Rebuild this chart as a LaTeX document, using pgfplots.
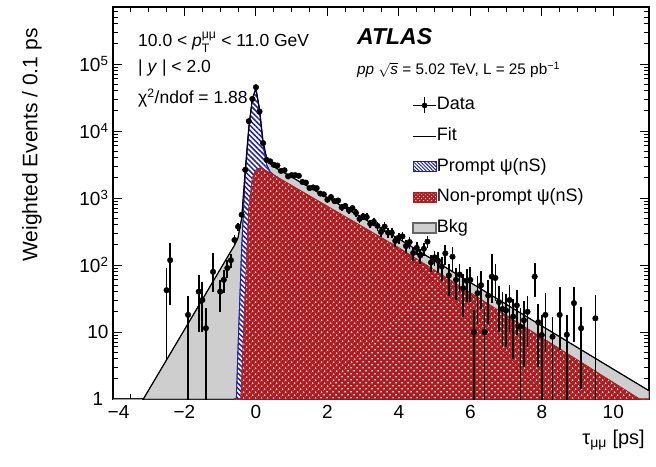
\documentclass[border=0pt]{standalone}
\usepackage{fontspec}
\setmainfont{Liberation Sans}
\usepackage{amsmath}
\usepackage{pgfplots}
\pgfplotsset{compat=1.18}
\usepackage{pgfplotstable}
\usetikzlibrary{patterns,patterns.meta}

\definecolor{myred}{RGB}{172,28,32}
\definecolor{myblue}{RGB}{30,30,170}
\definecolor{mygray}{RGB}{206,206,206}

\pgfplotstableread{
x y
-4.0 0.172
-0.6 197
-0.5 257
-0.4 498
-0.3 2557
-0.2 11258
-0.1 30703
0.0 42981
0.1 21217
0.2 6911
0.3 3965
0.4 3214
0.5 2928
0.6 2721
1 2050
2 1010
3 497.4
4 245.1
5 115.9
6 54.8
7 25.98
8 12.32
9 5.855
10 2.787
11 1.329
}\totaltab

\pgfplotstableread{
x y
-0.6 0.16
-0.5 6.1
-0.4 182
-0.3 2140
-0.2 10708
-0.1 29995
0.0 42130
0.1 20305
0.2 6020
0.3 3133
0.4 2438
0.5 2204
0.6 2045
}\prompttab

\pgfplotstableread{
x y
-0.6 0.01
-0.5 0.1
-0.4 2
-0.3 40
-0.2 708
-0.1 1995
0.0 2630
0.1 2805
0.15 2818
1 1537
4 180.5
11 0.816
}\nonprompttab

\pgfplotstableread{
x y ep em
-2.5 42 49 38
-2.4 118 96 93
-1.9 18 17 17.7
-1.6 40 31 30
-1.5 30 25 20
-1.4 11.4 11.6 11.1
-1.2 79 72 39
-1.0 40 20 20
-0.9 60 25 22
-0.8 90 27 25
-0.7 118 30 28
-0.6 236 40 40
-0.5 372 50 50
-0.4 562 60 60
-0.3 2630 150 150
-0.2 14000 350 350
-0.1 30000 520 520
0.0 45000 640 640
0.1 19500 420 420
0.2 6600 240 240
0.3 3700 180 180
0.4 3524 178 178
0.5 3128 168 168
0.6 3052 166 166
0.7 2534 151 151
0.8 2589 153 153
0.9 2101 138 138
1.0 2196 141 141
1.1 2192 140 140
1.2 2138 139 139
1.3 1735 125 125
1.4 1692 123 123
1.5 1406 112 112
1.6 1436 114 114
1.7 1401 112 112
1.8 1163 102 102
1.9 1134 101 101
2.0 942 92 92
2.1 1031 96 96
2.2 897 90 90
2.3 916 91 91
2.4 726 81 81
2.5 760 83 83
2.6 660 77 77
2.7 706 80 80
2.8 600 73 73
2.9 487 66 66
3.0 533 69 69
3.1 520 68 68
3.2 412 61 61
3.3 441 63 63
3.4 384 59 59
3.5 311 53 53
3.6 374 58 58
3.7 303 52 52
3.8 303 52 52
3.9 229 45 45
4.0 257 48 48
4.1 267 49 49
4.2 192 42 42
4.3 220 44 44
4.4 151 37 37
4.5 180 40 40
4.6 139 35 35
4.7 174 40 40
4.8 223 45 45
4.9 109 31 31
5.0 130 34 34
5.1 115 40 40
5.2 95 38 38
5.3 149 50 50
5.4 70 35 35
5.5 133 55 55
5.6 60 30 30
5.7 72 33 33
5.8 45 28 28
5.9 58 30 30
6.0 60 32 32
6.1 10 11 9.7
6.2 38 30 25
6.3 50 30 28
6.4 10 12 9.7
6.5 35 25 22
6.6 67 80 40
6.7 64 40 35
6.8 28 20 18
6.9 22 18 16
7.0 21 16 15
7.1 30 20 20
7.2 17 14 13
7.3 25 17 16
7.4 12 11 11.7
7.5 15 14 12
7.6 20 15 14
7.8 67 40 34
7.9 14 12 11
8.0 9 9 8.7
8.1 18 20 13
8.3 8.5 8 8.2
8.5 18 29 12.6
8.7 9.1 9 8.8
8.9 27 20 20
9.1 11.4 12 10
9.5 16 20 15.7
}\datatab

\begin{document}
\begin{tikzpicture}
\path[use as bounding box] (-113pt,-67pt) rectangle (543pt,399pt);
\begin{axis}[
  scale only axis, width=536pt, height=392pt,
  at={(0pt,0pt)}, anchor=south west,
  xmin=-4, xmax=11, ymode=log, ymin=1, ymax=7.08e5,
  xtick={-4,-2,0,2,4,6,8,10},
  xticklabels={\hphantom{−}−4,−2,0,2,4,6,8,10},
  minor x tick num=3,
  ytick={1,10,100,1000,10000,100000},
  yticklabels={1\hphantom{.},10,10\textsuperscript{2},10\textsuperscript{3},10\textsuperscript{4},10\textsuperscript{5}},
  minor ytick={2,3,4,5,6,7,8,9,20,30,40,50,60,70,80,90,200,300,400,500,600,700,800,900,2000,3000,4000,5000,6000,7000,8000,9000,20000,30000,40000,50000,60000,70000,80000,90000,200000,300000,400000,500000,600000,700000},
  tick align=inside,
  major tick length=9pt, minor tick length=5pt,
  every tick/.style={black, line width=0.9pt},
  axis line style={line width=1.2pt},
  ticklabel style={font=\fontsize{19}{19}\selectfont},
  xticklabel style={yshift=-2.5pt},
  yticklabel style={xshift=-1pt},
  legend style={at={(axis description cs:0.558,0.7717)}, anchor=north west,
    draw=none, fill=none, font=\fontsize{18}{18}\selectfont,
    row sep=13.5pt, inner sep=0pt,
    nodes={inner sep=0pt, text height=13pt, text depth=4pt},
    /tikz/every even column/.append style={column sep=3pt}},
  legend cell align=left,
]
% total fit (gray = bkg stacked on top)
\addplot[forget plot, draw=black!70, line width=0.6pt, fill=mygray] table[x=x,y=y] {\totaltab} \closedcycle;
% prompt + non-prompt
\addplot[forget plot, draw=myblue, line width=0.8pt, fill=white,
  postaction={pattern={Lines[angle=-45,distance=3.6pt,line width=1.5pt]}, pattern color=myblue}]
  table[x=x,y=y] {\prompttab} \closedcycle;
% non-prompt
\addplot[forget plot, draw=myred, line width=0.6pt, fill=myred,
  postaction={pattern={Dots[angle=45,distance=4pt,radius=1.05pt]}, pattern color=white!88!myred}]
  table[x=x,y=y] {\nonprompttab} \closedcycle;
% fit line
\addplot[forget plot, black, line width=1.2pt] table[x=x,y=y] {\totaltab};
% data
\addplot[forget plot, only marks, mark=*, mark size=2.8pt, black,
  error bars/.cd, y dir=both, y explicit,
  error bar style={line width=1.7pt, black}, error mark=none]
  table[x=x, y=y, y error plus=ep, y error minus=em] {\datatab};

\addlegendimage{legend image code/.code={
  \draw[black, line width=1.6pt] (0pt,0pt) -- (23pt,0pt);
  \draw[black, line width=1.6pt] (11.5pt,-8pt) -- (11.5pt,8pt);
  \fill[black] (11.5pt,0pt) circle (2.6pt);}}
\addlegendentry{Data}
\addlegendimage{legend image code/.code={
  \draw[black, line width=1.2pt] (0pt,0pt) -- (23pt,0pt);}}
\addlegendentry{Fit}
\addlegendimage{legend image code/.code={
  \draw[myblue, line width=1pt, fill=white, postaction={pattern={Lines[angle=-45,distance=2.5pt,line width=1pt]}, pattern color=myblue}] (0pt,-5pt) rectangle (23pt,5pt);}}
\addlegendentry{Prompt ψ(nS)}
\addlegendimage{legend image code/.code={
  \draw[myred, line width=1pt, fill=myred, postaction={pattern={Dots[angle=45,distance=2.8pt,radius=0.7pt]}, pattern color=white!88!myred}] (0pt,-5pt) rectangle (23pt,5pt);}}
\addlegendentry{Non-prompt ψ(nS)}
\addlegendimage{legend image code/.code={
  \draw[black!60, line width=1.5pt, fill=mygray] (0pt,-5pt) rectangle (23pt,5pt);}}
\addlegendentry{Bkg}
\end{axis}

% annotations
\node[anchor=west, inner sep=0pt, font=\fontsize{17.5}{17.5}\selectfont] at (25pt,357pt)
  {10.0 < \textit{p}$_{\text{T}}^{\text{μμ}}$ < 11.0 GeV};
\node[anchor=west, inner sep=0pt, font=\fontsize{17.5}{17.5}\selectfont] at (25pt,331pt)
  {| \textit{y} | < 2.0};
\node[anchor=west, inner sep=0pt, font=\fontsize{17.5}{17.5}\selectfont] at (25pt,301pt)
  {χ\textsuperscript{2}/ndof = 1.88};
\node[anchor=west, inner sep=0pt, font=\fontsize{23}{23}\selectfont\bfseries\itshape] at (244pt,362pt)
  {ATLAS};
\node[anchor=west, inner sep=0pt, font=\fontsize{15.3}{15.3}\selectfont] at (244pt,329pt)
  {\textit{pp} $\sqrt{\text{\textit{s}}}$ = 5.02 TeV, L = 25 pb\textsuperscript{−1}};
\node[rotate=90, inner sep=0pt, font=\fontsize{21}{21}\selectfont] at (-81pt,254pt)
  {Weighted Events / 0.1 ps};
\node[anchor=east, inner sep=0pt, font=\fontsize{20}{20}\selectfont] at (532pt,-41pt)
  {τ$_{\text{μμ}}$ [ps]};
\end{tikzpicture}
\end{document}
